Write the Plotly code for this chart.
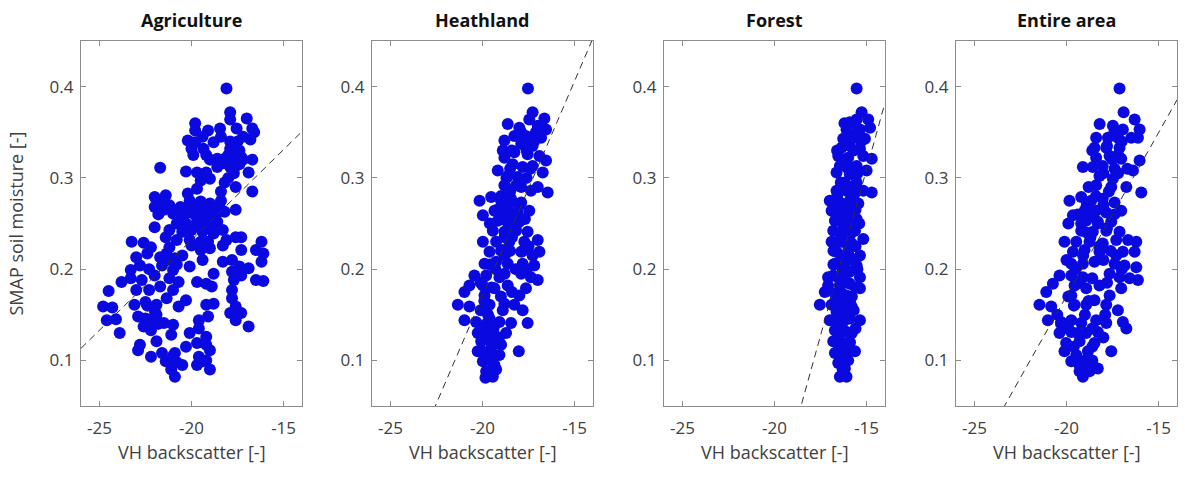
import plotly.graph_objects as go

panel_titles = ["Agriculture", "Heathland", "Forest", "Entire area"]
x_label = "VH backscatter [-]"
y_label = "SMAP soil moisture [-]"
x_ticks = [-25, -20, -15]
y_ticks = [0.1, 0.2, 0.3, 0.4]
x_tick_text = ["-25", "-20", "-15"]
y_tick_text = ["0.1", "0.2", "0.3", "0.4"]

# Regression lines (slope, intercept) per panel
fit_slope = [0.0198, 0.0471, 0.0729, 0.0358]
fit_intercept = [0.628, 1.1126, 1.403, 0.8866]

agri_x = [-18.1, -17.9, -17.9, -17.0, -19.8, -19.8, -19.1, -18.45, -17.55, -16.7, -16.6, -17.2, -16.8,
          -20.2, -19.8, -18.8, -20.0, -19.35, -17.9, -17.4, -19.9, -19.2, -18.6, -18.2, -17.7, -17.3, -16.7,
          -21.7, -18.3, -17.9, -18.6, -20.3, -19.7, -19.2, -17.7, -16.9, -19.5, -19.0, -18.2, -17.6, -16.7,
          -19.7, -20.2, -22.0, -21.4, -22.0, -21.7, -21.2, -17.6, -20.6, -20.1, -19.5, -19.0, -18.4, -21.0,
          -20.4, -19.9, -19.3, -18.8, -18.2, -20.8, -20.3, -19.7, -19.2, -18.6, -22.0, -21.2, -20.5, -20.0,
          -19.4, -18.8, -18.3, -21.4, -20.8, -20.1, -19.5, -19.1, -18.1, -17.6, -17.3, -23.25, -22.6, -22.2,
          -21.2, -20.0, -19.5, -19.0, -18.3, -17.3, -16.2, -16.5, -23.0, -22.4, -21.7, -21.35, -20.9, -19.4,
          -18.3, -17.8, -16.1, -16.2, -22.8, -22.3, -21.6, -21.0, -20.1, -17.4, -16.9, -17.8, -23.3, -23.8,
          -23.3, -22.7, -22.0, -21.2, -20.7, -19.7, -19.2, -18.8, -17.7, -17.3, -16.5, -16.1, -24.5, -23.0,
          -22.3, -21.7, -21.0, -18.9, -17.8, -24.8, -24.3, -23.1, -22.5, -21.9, -21.35, -20.3, -20.7, -19.2,
          -18.8, -17.8, -17.6, -24.6, -24.1, -22.9, -22.5, -21.9, -21.5, -21.0, -19.6, -19.1, -17.9, -17.3,
          -17.6, -23.9, -22.6, -22.2, -21.1, -20.1, -19.6, -19.2, -16.9, -22.8, -21.9, -20.3, -19.7, -19.2,
          -22.9, -22.2, -21.6, -20.9, -19.6, -19.0, -21.4, -20.5, -19.7, -19.0, -21.1, -20.9, -19.4,
          -20.0, -19.6, -19.3, -18.9, -20.3, -19.7, -19.1, -18.6, -18.5, -20.5, -19.5, -18.9, -20.7,
          -18.4, -18.0, -17.7, -17.4, -18.0, -17.6, -17.2, -17.9, -17.5, -18.4, -19.4, -19.0, -21.8,
          -21.5, -22.2, -22.0, -21.8, -22.4, -21.0, -20.8, -19.2, -21.3, -20.5, -20.8]
agri_y = [0.398, 0.372, 0.364, 0.365, 0.360, 0.352, 0.352, 0.354, 0.354, 0.354, 0.350, 0.345, 0.342,
          0.341, 0.339, 0.339, 0.332, 0.332, 0.332, 0.330, 0.325, 0.325, 0.321, 0.321, 0.319, 0.323, 0.320,
          0.311, 0.316, 0.312, 0.312, 0.307, 0.306, 0.306, 0.305, 0.306, 0.297, 0.299, 0.295, 0.290, 0.285,
          0.288, 0.283, 0.279, 0.281, 0.268, 0.272, 0.270, 0.265, 0.268, 0.275, 0.274, 0.272, 0.275, 0.261,
          0.259, 0.261, 0.261, 0.257, 0.263, 0.250, 0.250, 0.252, 0.250, 0.252, 0.246, 0.243, 0.241, 0.243,
          0.241, 0.239, 0.243, 0.235, 0.232, 0.232, 0.230, 0.230, 0.232, 0.235, 0.235, 0.230, 0.229, 0.224,
          0.224, 0.226, 0.221, 0.223, 0.226, 0.221, 0.230, 0.221, 0.213, 0.217, 0.213, 0.217, 0.212, 0.210,
          0.208, 0.210, 0.217, 0.208, 0.204, 0.200, 0.204, 0.199, 0.203, 0.203, 0.201, 0.197, 0.199, 0.186,
          0.190, 0.188, 0.193, 0.190, 0.186, 0.186, 0.184, 0.195, 0.188, 0.193, 0.188, 0.187, 0.176, 0.177,
          0.177, 0.181, 0.177, 0.181, 0.177, 0.159, 0.158, 0.161, 0.164, 0.161, 0.168, 0.166, 0.159, 0.161,
          0.162, 0.168, 0.159, 0.144, 0.145, 0.148, 0.146, 0.150, 0.141, 0.139, 0.144, 0.148, 0.152, 0.152,
          0.144, 0.130, 0.137, 0.133, 0.128, 0.130, 0.135, 0.126, 0.137, 0.117, 0.121, 0.115, 0.119, 0.117,
          0.111, 0.104, 0.108, 0.108, 0.104, 0.111, 0.099, 0.095, 0.095, 0.090, 0.090, 0.082, 0.099,
          0.268, 0.265, 0.270, 0.266, 0.262, 0.257, 0.255, 0.262, 0.270, 0.250, 0.247, 0.245, 0.255,
          0.285, 0.300, 0.310, 0.315, 0.325, 0.325, 0.320, 0.340, 0.340, 0.345, 0.345, 0.320, 0.260,
          0.265, 0.145, 0.155, 0.140, 0.160, 0.105, 0.098, 0.100, 0.210, 0.215, 0.205]

heath_x = [-17.53, -17.28, -17.46, -16.64, -18.63, -18.0, -17.0, -16.55, -18.27, -17.64, -16.82, -18.81,
           -17.9, -17.28, -18.9, -18.27, -17.55, -18.81, -16.91, -16.55, -19.17, -18.36, -17.82, -17.28,
           -16.73, -18.63, -18.09, -18.81, -18.18, -17.0, -16.46, -17.37, -20.16, -19.53, -18.99, -18.45,
           -17.9, -19.98, -19.35, -18.72, -18.09, -17.46, -19.17, -18.54, -18.0, -19.44, -18.81, -18.18,
           -17.55, -19.98, -19.26, -18.54, -17.73, -17.0, -19.62, -18.9, -17.9, -17.28, -16.91, -19.89,
           -19.26, -18.63, -17.82, -17.19, -20.44, -19.8, -19.08, -17.9, -17.37, -17.0, -20.71, -19.98,
           -19.35, -18.63, -17.64, -19.89, -18.0, -20.98, -21.34, -20.71, -19.62, -18.81, -18.27, -17.82,
           -20.98, -20.35, -19.62, -19.08, -18.45, -17.55, -20.26, -19.44, -18.72, -20.07, -19.53, -18.99,
           -20.26, -19.62, -19.08, -18.03, -19.98, -19.35, -19.8, -19.26, -19.84, -19.44,
           -18.3, -18.0, -18.6, -18.9, -18.4, -18.2, -17.7, -17.6, -17.2, -17.4, -17.9, -18.5, -18.8,
           -19.3, -19.5, -19.7, -19.4, -19.8, -19.6, -19.5, -18.2, -17.8, -18.5, -17.9, -19.0, -19.8, -20.1,
           -19.0, -18.7, -18.4, -17.8, -17.1, -17.6, -19.2, -18.6, -19.6, -18.8, -17.5, -18.5, -19.6,
           -18.8, -17.6, -20.1, -19.0, -18.4, -19.9, -18.9, -19.9, -19.1, -20.0, -19.4, -19.6]
heath_y = [0.398, 0.372, 0.364, 0.365, 0.359, 0.355, 0.357, 0.353, 0.346, 0.346, 0.344, 0.341,
           0.337, 0.335, 0.330, 0.328, 0.326, 0.322, 0.324, 0.319, 0.308, 0.315, 0.312, 0.313,
           0.306, 0.302, 0.301, 0.292, 0.292, 0.290, 0.284, 0.286, 0.275, 0.279, 0.275, 0.277,
           0.273, 0.259, 0.264, 0.264, 0.262, 0.264, 0.253, 0.252, 0.252, 0.242, 0.241, 0.242,
           0.241, 0.230, 0.230, 0.230, 0.230, 0.232, 0.219, 0.221, 0.219, 0.215, 0.219, 0.206,
           0.208, 0.206, 0.206, 0.204, 0.193, 0.193, 0.191, 0.195, 0.191, 0.188, 0.182, 0.182,
           0.179, 0.182, 0.179, 0.171, 0.171, 0.175, 0.161, 0.159, 0.161, 0.162, 0.161, 0.155,
           0.144, 0.142, 0.146, 0.142, 0.141, 0.141, 0.130, 0.131, 0.130, 0.121, 0.119, 0.117,
           0.110, 0.108, 0.106, 0.110, 0.099, 0.095, 0.088, 0.090, 0.081, 0.082,
           0.260, 0.270, 0.250, 0.255, 0.235, 0.245, 0.255, 0.330, 0.340, 0.310, 0.290, 0.285, 0.215,
           0.200, 0.180, 0.150, 0.135, 0.125, 0.100, 0.115, 0.200, 0.220, 0.310, 0.350, 0.220, 0.140, 0.155,
           0.280, 0.300, 0.330, 0.340, 0.350, 0.300, 0.265, 0.270, 0.250, 0.235, 0.225, 0.220, 0.205,
           0.195, 0.200, 0.185, 0.170, 0.175, 0.165, 0.155, 0.135, 0.125, 0.110, 0.105, 0.085]

forest_x = [-15.54, -15.27, -15.91, -15.54, -14.91, -16.09, -15.36, -14.81, -16.27, -15.72, -15.09,
            -16.36, -15.91, -15.36, -16.54, -16.0, -15.18, -14.72, -16.09, -15.54, -16.63, -15.91, -15.0,
            -16.18, -15.54, -16.09, -15.18, -14.72, -17.0, -16.45, -15.91, -15.45, -16.9, -16.36, -15.72,
            -16.72, -16.09, -15.54, -16.81, -16.18, -15.63, -15.18, -16.9, -16.36, -15.81, -16.63, -16.0,
            -15.36, -16.72, -16.18, -15.54, -16.81, -16.27, -15.36, -17.09, -17.09, -16.45, -15.91, -15.36,
            -17.27, -16.72, -16.09, -17.54, -16.9, -16.36, -15.81, -17.0, -16.45, -15.91, -15.36, -16.72,
            -16.09, -16.81, -16.27, -15.63, -16.72, -16.18, -16.54, -16.18, -16.45, -16.09,
            -16.45, -15.63, -16.27, -15.91, -16.45, -15.91, -16.63, -16.18, -16.54, -16.45, -15.91, -16.63,
            -16.0, -16.2, -15.8, -16.4, -16.0, -15.7, -16.3, -16.5, -15.8, -16.2, -16.6, -15.9, -16.4,
            -16.0, -15.7, -16.2, -15.5, -16.0, -15.7, -16.6, -16.8, -16.7, -15.6, -16.1,
            -16.6, -15.9, -15.3, -16.3, -15.5, -16.4, -15.9, -16.8, -15.6, -16.5, -15.4, -16.0, -16.6,
            -15.6, -16.3, -15.5, -16.0, -15.6, -16.8, -16.4, -15.9, -16.7, -15.7, -16.3, -15.8, -16.5,
            -16.0, -16.3, -15.7, -16.2]
forest_y = [0.398, 0.372, 0.361, 0.364, 0.364, 0.353, 0.353, 0.355, 0.343, 0.344, 0.343,
            0.333, 0.335, 0.332, 0.324, 0.322, 0.324, 0.321, 0.315, 0.313, 0.306, 0.304, 0.308,
            0.295, 0.295, 0.286, 0.286, 0.284, 0.275, 0.273, 0.275, 0.272, 0.264, 0.262, 0.266,
            0.253, 0.252, 0.255, 0.242, 0.241, 0.242, 0.233, 0.230, 0.230, 0.228, 0.219, 0.217,
            0.215, 0.206, 0.206, 0.204, 0.193, 0.193, 0.191, 0.191, 0.182, 0.182, 0.184, 0.179,
            0.175, 0.173, 0.171, 0.161, 0.161, 0.162, 0.159, 0.144, 0.144, 0.146, 0.144, 0.133,
            0.131, 0.121, 0.119, 0.110, 0.108, 0.106, 0.097, 0.091, 0.082, 0.082,
            0.313, 0.284, 0.249, 0.237, 0.208, 0.197, 0.153, 0.153, 0.128, 0.113, 0.252, 0.286,
            0.260, 0.270, 0.250, 0.240, 0.225, 0.210, 0.200, 0.190, 0.170, 0.160, 0.135, 0.120, 0.100,
            0.100, 0.330, 0.340, 0.350, 0.310, 0.280, 0.280, 0.220, 0.145, 0.135, 0.145,
            0.330, 0.345, 0.340, 0.320, 0.305, 0.295, 0.290, 0.270, 0.265, 0.255, 0.250, 0.245, 0.230,
            0.225, 0.215, 0.200, 0.185, 0.180, 0.205, 0.175, 0.165, 0.165, 0.155, 0.135, 0.130, 0.115,
            0.110, 0.090, 0.360, 0.360]

entire_x = [-17.12, -16.9, -18.2, -16.3, -17.48, -16.94, -16.03, -16.12, -18.39, -17.75, -17.21, -16.48,
            -18.48, -17.84, -17.12, -18.39, -17.66, -17.03, -16.03, -19.11, -18.57, -18.03, -17.39, -16.39,
            -18.21, -17.48, -18.39, -17.57, -16.75, -15.94, -19.84, -19.2, -18.66, -18.03, -17.39, -19.65,
            -19.02, -18.39, -17.84, -17.03, -18.93, -18.3, -17.57, -19.2, -18.57, -17.84, -17.12, -20.11,
            -19.47, -18.75, -18.03, -17.3, -16.66, -16.21, -19.65, -19.02, -18.21, -16.94, -16.3, -19.74,
            -19.11, -18.48, -17.39, -16.85, -16.21, -20.38, -19.74, -19.11, -17.66, -17.12, -16.57, -16.12,
            -20.74, -19.56, -18.93, -18.21, -17.03, -21.1, -19.74, -18.48, -17.66, -21.47, -20.83, -19.56,
            -18.93, -17.84, -17.21, -21.01, -20.29, -19.74, -19.2, -18.39, -17.84, -16.94, -16.75, -20.38,
            -19.74, -18.93, -18.3, -20.02, -19.29, -18.48, -17.57, -20.11, -19.47, -18.84, -19.74, -18.93,
            -18.3, -19.29, -19.11, -18.75,
            -18.6, -18.0, -18.9, -18.3, -17.8, -18.7, -19.2, -17.5, -17.2, -17.8, -17.4, -18.0, -17.7,
            -18.8, -19.5, -19.3, -19.6, -19.0, -19.4, -19.0, -19.6, -18.6, -17.6, -17.0, -18.0, -19.9,
            -19.4, -18.4, -17.2, -17.0, -18.6, -16.7, -18.9, -17.4, -18.2, -19.1, -17.3, -20.0, -18.6,
            -17.8, -19.9, -18.8, -20.5, -18.6, -19.9, -17.9, -18.0, -19.3, -18.6, -20.3]
entire_y = [0.398, 0.372, 0.359, 0.364, 0.357, 0.353, 0.353, 0.344, 0.344, 0.344, 0.344, 0.344,
            0.333, 0.333, 0.333, 0.322, 0.324, 0.321, 0.319, 0.312, 0.312, 0.313, 0.310, 0.308,
            0.302, 0.299, 0.292, 0.290, 0.290, 0.284, 0.275, 0.279, 0.275, 0.277, 0.273, 0.259,
            0.264, 0.264, 0.262, 0.264, 0.253, 0.252, 0.252, 0.242, 0.241, 0.242, 0.241, 0.230,
            0.230, 0.230, 0.228, 0.232, 0.232, 0.230, 0.219, 0.221, 0.219, 0.219, 0.219, 0.206,
            0.206, 0.208, 0.206, 0.204, 0.202, 0.193, 0.193, 0.191, 0.195, 0.191, 0.190, 0.188,
            0.184, 0.182, 0.179, 0.182, 0.179, 0.175, 0.171, 0.166, 0.171, 0.161, 0.159, 0.161,
            0.161, 0.161, 0.155, 0.144, 0.142, 0.144, 0.141, 0.144, 0.141, 0.142, 0.135, 0.130,
            0.131, 0.130, 0.131, 0.119, 0.121, 0.119, 0.110, 0.110, 0.106, 0.110, 0.099, 0.097,
            0.091, 0.088, 0.082, 0.088,
            0.260, 0.270, 0.270, 0.250, 0.245, 0.235, 0.250, 0.320, 0.325, 0.335, 0.350, 0.305, 0.285,
            0.290, 0.200, 0.185, 0.160, 0.150, 0.130, 0.100, 0.115, 0.100, 0.220, 0.200, 0.210, 0.250,
            0.260, 0.280, 0.305, 0.340, 0.330, 0.310, 0.240, 0.260, 0.225, 0.215, 0.215, 0.210, 0.190,
            0.185, 0.170, 0.165, 0.150, 0.135, 0.135, 0.150, 0.125, 0.095, 0.115, 0.140]

panels_x = [agri_x, heath_x, forest_x, entire_x]
panels_y = [agri_y, heath_y, forest_y, entire_y]

x_range = [-26, -14]
y_range = [0.05, 0.45]

W, H = 1185, 477
ml, mr, mt, mb = 81, 8, 41, 71
pw = W - ml - mr
ph = H - mt - mb
left_px = [81, 372, 664, 956]
panel_w = 221

MARKER = "#0a0ae0"
AXIS = "#8c8c8c"
TEXT = "#404040"
FONT = "Open Sans, Lato, sans-serif"

fig = go.Figure()
annotations = []
for i in range(4):
    sfx = "" if i == 0 else str(i + 1)
    xa, ya = "x" + sfx, "y" + sfx
    fig.add_trace(go.Scatter(x=panels_x[i], y=panels_y[i], mode="markers", xaxis=xa, yaxis=ya,
                             marker=dict(size=12, color=MARKER, line=dict(width=0)),
                             showlegend=False, hoverinfo="skip"))
    lx = x_range
    ly = [fit_slope[i] * v + fit_intercept[i] for v in lx]
    fig.add_trace(go.Scatter(x=lx, y=ly, mode="lines", xaxis=xa, yaxis=ya,
                             line=dict(color="#303030", width=1, dash="7px,5px"),
                             showlegend=False, hoverinfo="skip"))
    d0 = (left_px[i] - ml) / pw
    d1 = (left_px[i] + panel_w - ml) / pw
    axis_common = dict(showline=True, mirror="ticks", linecolor=AXIS, linewidth=1.3,
                       ticks="inside", ticklen=5, tickcolor=AXIS, tickwidth=1.2,
                       showgrid=False, zeroline=False,
                       tickfont=dict(family=FONT, size=17, color=TEXT))
    fig.update_layout(**{
        "xaxis" + sfx: dict(domain=[d0, d1], range=x_range, anchor=ya, tickvals=x_ticks,
                            ticktext=x_tick_text, ticklabelstandoff=6, **axis_common),
        "yaxis" + sfx: dict(domain=[0, 1], range=y_range, anchor=xa, tickvals=y_ticks,
                            ticktext=y_tick_text, ticklabelstandoff=3, **axis_common),
    })
    cx = (d0 + d1) / 2
    annotations.append(dict(text="<b>" + panel_titles[i] + "</b>", x=cx, y=1 + (mt - 20) / ph,
                            xref="paper", yref="paper", showarrow=False, xanchor="center",
                            yanchor="middle", font=dict(family=FONT, size=18, color="#111111")))
    annotations.append(dict(text=x_label, x=cx, y=-(452 - (H - mb)) / ph,
                            xref="paper", yref="paper", showarrow=False, xanchor="center",
                            yanchor="middle", font=dict(family=FONT, size=18, color=TEXT)))

annotations.append(dict(text=y_label, x=-(ml - 15) / pw, y=0.5, xref="paper", yref="paper",
                        showarrow=False, textangle=-90, xanchor="center", yanchor="middle",
                        font=dict(family=FONT, size=18, color=TEXT)))

fig.update_layout(width=W, height=H, margin=dict(l=ml, r=mr, t=mt, b=mb),
                  paper_bgcolor="white", plot_bgcolor="white", annotations=annotations)

fig.write_html("out.html", config={"displayModeBar": False},
               post_script="document.body.style.margin='0';document.body.style.overflow='hidden';")
